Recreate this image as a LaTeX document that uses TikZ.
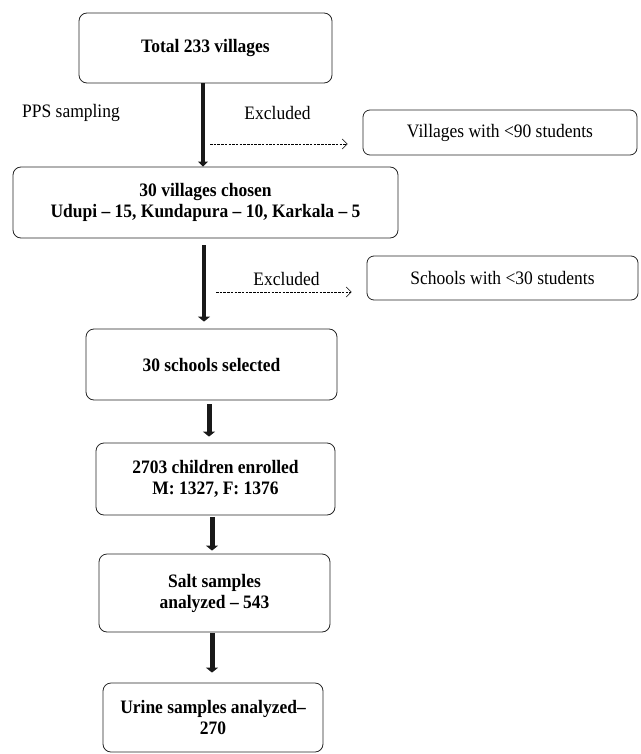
\documentclass[tikz,border=0pt]{standalone}
\usepackage{fontspec}
\setmainfont[FakeStretch=0.92]{Liberation Serif}
\usetikzlibrary{arrows.meta,calc}
\begin{document}
\begin{tikzpicture}[x=1pt,y=-1pt,
  txt/.style={font=\fontsize{19}{21}\selectfont, align=center, inner sep=0pt},
  box/.style={txt, draw=black!85, line width=0.8pt, rounded corners=8pt, font=\fontsize{19}{21}\selectfont\bfseries},
  exbox/.style={txt, draw=black!85, line width=0.8pt, rounded corners=7pt},
  mainarrow/.style={line width=5pt, draw=black!90, -{Triangle[width=12pt,length=5pt]}},
  dasharrow/.style={line width=0.6pt, dash pattern=on 2.5pt off 1.2pt, -{Straight Barb[length=5pt,width=10pt,line width=0.6pt]}}
]
\useasboundingbox (0,0) rectangle (640,754);
\node[box, minimum width=253pt, minimum height=70pt] (b1) at (205.5,48) {Total 233 villages};
\node[box, minimum width=385pt, minimum height=71pt] (b2) at (205.5,202.5) {30 villages chosen\\Udupi -- 15, Kundapura -- 10, Karkala -- 5};
\node[box, minimum width=251pt, minimum height=71pt] (b3) at (211.5,364.5) {30 schools selected};
\node[box, minimum width=239pt, minimum height=72pt] (b4) at (215.5,479) {2703 children enrolled\\M: 1327, F: 1376};
\node[box, minimum width=231pt, minimum height=78pt] (b5) at (214.5,593) {Salt samples\\analyzed -- 543};
\node[box, minimum width=220pt, minimum height=69pt] (b6) at (213,717.5) {Urine samples analyzed--\\270};
\node[exbox, minimum width=274pt, minimum height=45pt] (ex1) at (500,132.5) {Villages with <90 students};
\node[exbox, minimum width=271pt, minimum height=44pt] (ex2) at (502.5,278) {Schools with <30 students};
\node[txt] (pps) at (71,113) {PPS sampling};
\node[txt] (exl1) at (277.5,113) {Excluded};
\node[txt] (exl2) at (286.5,279) {Excluded};
\coordinate (d1s) at (210,144);
\coordinate (d2s) at (216,292);
\draw[mainarrow, line width=3.4pt, -{Triangle[width=10pt,length=5pt]}] ([xshift=-2.5pt]b1.south) -- ([xshift=-2.5pt]b2.north);
\draw[mainarrow, line width=4pt, shorten <=7pt, shorten >=7pt] ([xshift=-1.5pt]b2.south) -- ([xshift=-7.5pt]b3.north);
\draw[mainarrow, shorten <=4pt, shorten >=6pt] ([xshift=-2.5pt]b3.south) -- ([xshift=-6.5pt]b4.north);
\draw[mainarrow, shorten <=2pt, shorten >=3pt] ([xshift=-3.5pt]b4.south) -- ([xshift=-2.5pt]b5.north);
\draw[mainarrow, shorten <=1pt, shorten >=10pt] ([xshift=-2.5pt]b5.south) -- ([xshift=-1pt]b6.north);
\draw[dasharrow, shorten >=15pt] (d1s) -- (d1s -| ex1.west);
\draw[dasharrow, shorten >=15pt] (d2s) -- (d2s -| ex2.west);
\end{tikzpicture}
\end{document}
